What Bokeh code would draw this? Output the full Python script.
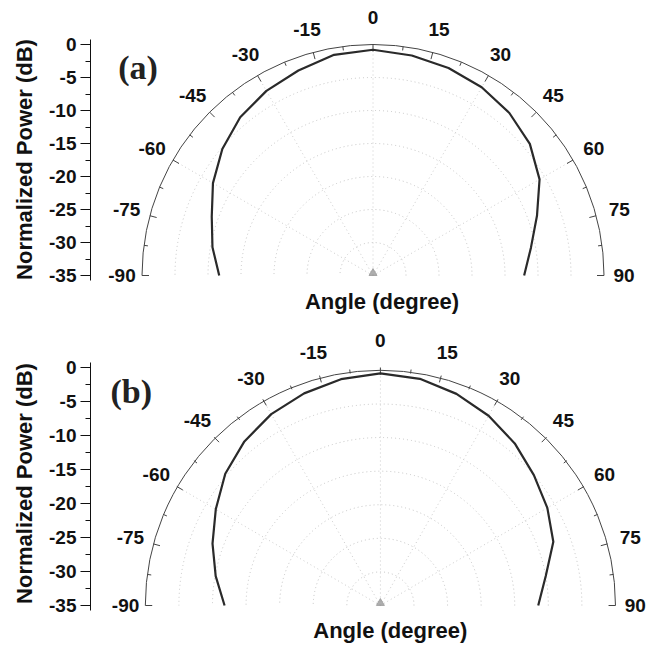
import numpy as np
from bokeh.plotting import figure
from bokeh.layouts import column
from bokeh.models import FixedTicker, Label
from bokeh.core.properties import value
from bokeh.embed import file_html
from bokeh.resources import INLINE

# ---------------- data ----------------
angles_deg = [-90, -80, -70, -60, -50, -40, -30, -20, -10, 0,
              10, 20, 30, 40, 50, 60, 70, 80, 90]
power_a = [-11.7, -10.3, -9.0, -7.0, -5.2, -3.7, -2.7, -1.95, -1.05, -0.8,
           -1.15, -1.55, -2.07, -2.86, -3.98, -5.86, -8.56, -10.7, -12.1]
power_b = [-11.8, -10.1, -8.4, -6.7, -4.85, -3.5, -2.5, -1.8, -1.2, -0.87,
           -1.15, -1.88, -2.78, -3.88, -5.17, -6.3, -7.6, -10.0, -11.5]

db_ticks = [0, -5, -10, -15, -20, -25, -30, -35]
db_tick_labels = ["0", "-5", "-10", "-15", "-20", "-25", "-30", "-35"]
db_minor_ticks = [-2.5, -7.5, -12.5, -17.5, -22.5, -27.5, -32.5]

angle_ticks = [-90, -75, -60, -45, -30, -15, 0, 15, 30, 45, 60, 75, 90]
angle_tick_labels = ["-90", "-75", "-60", "-45", "-30", "-15", "0",
                     "15", "30", "45", "60", "75", "90"]
angle_minor_ticks = [-82.5, -67.5, -52.5, -37.5, -22.5, -7.5,
                     7.5, 22.5, 37.5, 52.5, 67.5, 82.5]

grid_db = [-30, -25, -20, -15, -10, -5]
radial_grid_deg = [-60, -30, 0, 30, 60]

panel_labels = ["(a)", "(b)"]
x_label = "Angle (degree)"
y_label = "Normalized Power (dB)"

DB_MIN = -35.0
FONT = "Liberation Sans"
W = 653


def polar_xy(theta_deg, db):
    r = np.asarray(db, dtype=float) - DB_MIN
    t = np.radians(np.asarray(theta_deg, dtype=float))
    return r * np.sin(t), DB_MIN + r * np.cos(t)


def make_panel(power, panel_label, height, border_left, scale, cx, cy,
               lab_xy, xlab_xy):
    fw = W - border_left
    x_range = (-cx / scale, (fw - cx) / scale)
    y_range = (DB_MIN - (height - cy) / scale, DB_MIN + cy / scale)
    p = figure(width=W, height=height, output_backend="svg",
               toolbar_location=None, x_range=x_range, y_range=y_range,
               x_axis_location=None, y_axis_location="left",
               min_border_left=border_left, min_border_right=0,
               min_border_top=0, min_border_bottom=0)
    p.outline_line_color = None
    p.grid.visible = False
    p.background_fill_color = "white"
    p.border_fill_color = "white"

    R = -DB_MIN
    # grid circles
    p.arc(x=0, y=DB_MIN, radius=[d - DB_MIN for d in grid_db],
          start_angle=0, end_angle=np.pi, line_color="#c4c4c4",
          line_dash="1 3", line_width=1)
    # radial grid lines
    gx, gy = polar_xy(radial_grid_deg, [0] * len(radial_grid_deg))
    p.segment(x0=0, y0=DB_MIN, x1=gx, y1=gy, line_color="#cccccc",
              line_dash="1 3", line_width=1)
    # outer circle
    p.arc(x=0, y=DB_MIN, radius=R, start_angle=0, end_angle=np.pi,
          line_color="#444444", line_width=1)
    # major ticks on the outer circle
    x0, y0 = polar_xy(angle_ticks, [0] * len(angle_ticks))
    tin = 7.0 / scale
    x1, y1 = polar_xy(angle_ticks, [-tin] * len(angle_ticks))
    p.segment(x0=x0, y0=y0, x1=x1, y1=y1, line_color="#444444", line_width=1)
    # minor ticks
    x0, y0 = polar_xy(angle_minor_ticks, [0] * len(angle_minor_ticks))
    tmin = 4.0 / scale
    x1, y1 = polar_xy(angle_minor_ticks, [-tmin] * len(angle_minor_ticks))
    p.segment(x0=x0, y0=y0, x1=x1, y1=y1, line_color="#444444", line_width=1)

    # angle labels (offset outside the circle, in pixels)
    off_px = [20 if abs(a) == 90 else (27 if a == 0 else 24)
              for a in angle_ticks]
    lx, ly = polar_xy(angle_ticks, [o / scale for o in off_px])
    p.text(x=lx, y=ly, text=angle_tick_labels, text_align="center",
           text_baseline="middle", text_font=value(FONT),
           text_font_style="bold", text_font_size="19px", text_color="#111111")

    # the measured pattern
    cxs, cys = polar_xy(angles_deg, power)
    p.line(cxs, cys, line_color="#2a2a2a", line_width=2.2)

    # centre marker
    p.scatter(x=[0], y=[DB_MIN + 0.35], marker="triangle", size=8,
              color="#9a9a9a", alpha=0.8)

    # left axis
    ax = p.yaxis[0]
    ax.ticker = FixedTicker(ticks=db_ticks, minor_ticks=db_minor_ticks)
    ax.major_label_overrides = {t: s for t, s in zip(db_ticks, db_tick_labels)}
    ax.bounds = (DB_MIN - 0.8, 0.8)
    ax.axis_label = y_label
    ax.axis_label_text_font = FONT
    ax.axis_label_text_font_style = "bold"
    ax.axis_label_text_font_size = "22px"
    ax.axis_label_text_color = "#111111"
    ax.axis_label_standoff = 9
    ax.major_label_text_font = FONT
    ax.major_label_text_font_style = "bold"
    ax.major_label_text_font_size = "19px"
    ax.major_label_text_color = "#111111"
    ax.major_label_standoff = 4
    ax.major_tick_out = 10
    ax.major_tick_in = 0
    ax.minor_tick_out = 5
    ax.minor_tick_in = 0
    ax.axis_line_color = "#111111"
    ax.major_tick_line_color = "#111111"
    ax.minor_tick_line_color = "#111111"

    p.add_layout(Label(x=lab_xy[0], y=lab_xy[1], text=panel_label,
                       text_align="center", text_baseline="middle",
                       text_font="Liberation Serif", text_font_style="bold",
                       text_font_size="34px", text_color="#222222"))
    p.add_layout(Label(x=xlab_xy[0], y=xlab_xy[1], text=x_label,
                       text_align="center", text_baseline="middle",
                       text_font=FONT, text_font_style="bold",
                       text_font_size="22px", text_color="#111111"))
    return p


# panel (a): page y 0..318, axis at page x 90, centre at (372.5, 275)
pa = make_panel(power_a, panel_labels[0], height=318, border_left=90,
                scale=6.6, cx=372.5 - 90, cy=275,
                lab_xy=(-35.6, -3.5), xlab_xy=(1.36, -38.9))
# panel (b): page y 318..648, axis at page x 83, centre at (376.5, 605)
pb = make_panel(power_b, panel_labels[1], height=330, border_left=83,
                scale=6.8, cx=376.5 - 83, cy=605 - 318,
                lab_xy=(-37.1, -3.5), xlab_xy=(1.47, -38.7))

layout = column(pa, pb, spacing=0)
open("out.html", "w").write(file_html(layout, INLINE))
